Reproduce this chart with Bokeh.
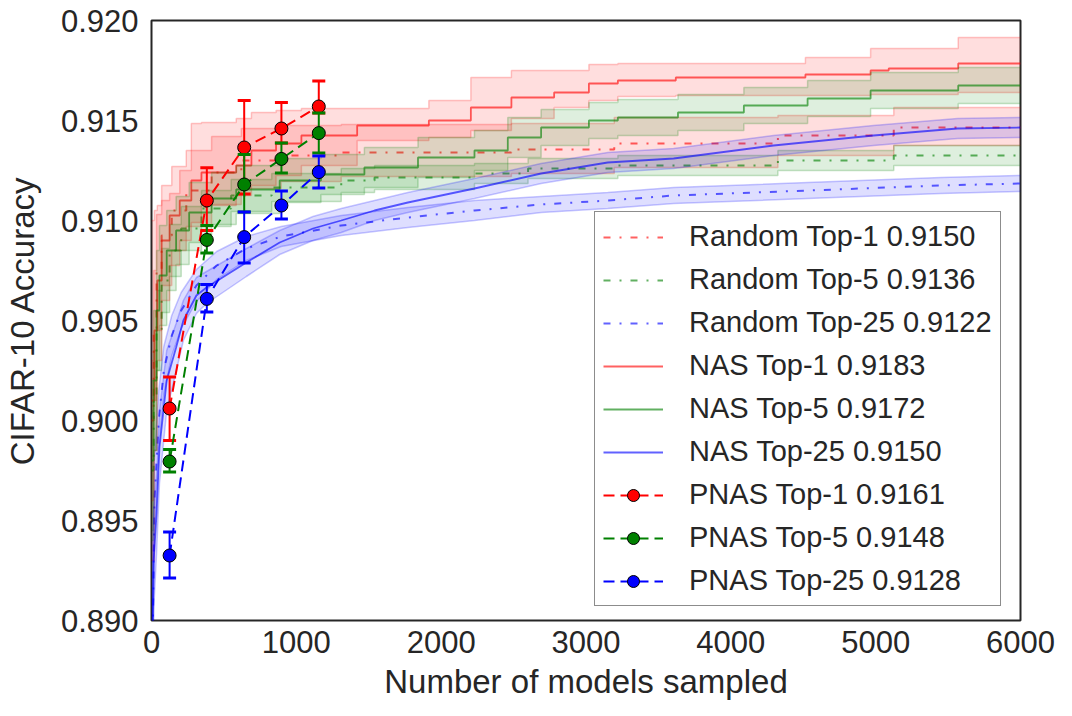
from bokeh.plotting import figure
from bokeh.models import FixedTicker, PrintfTickFormatter, Legend, LegendItem
from bokeh.embed import file_html
from bokeh.resources import INLINE

X_MAX = 6000

# ---------------- data ----------------
# NAS Top-1 (step, mean and band)
nas1_x = [0, 20, 40, 70, 125, 195, 275, 345, 585, 690, 860, 1035, 1420, 1915, 2205, 2485, 2780, 3020, 3220, 3620, 4515, 4965, 5090, 5570]
nas1_mean = [0.9010, 0.9045, 0.9070, 0.9090, 0.91025, 0.9110, 0.9120, 0.9124, 0.91275, 0.9135, 0.91385, 0.91425, 0.91475, 0.9150, 0.91565, 0.91615, 0.9164, 0.91685, 0.9170, 0.91715, 0.9173, 0.9175, 0.9176, 0.91785]
nas1_hi = [0.9100, 0.9105, 0.91075, 0.9110, 0.91135, 0.9125, 0.91485, 0.9149, 0.9151, 0.9154, 0.9155, 0.9156, 0.9156, 0.9160, 0.91715, 0.9175, 0.9175, 0.9178, 0.91785, 0.91785, 0.91815, 0.9186, 0.9186, 0.91915]
nas1_lo = [0.8930, 0.8985, 0.9030, 0.9060, 0.90775, 0.9090, 0.9099, 0.91075, 0.91125, 0.91175, 0.91225, 0.91275, 0.9140, 0.91415, 0.9145, 0.9151, 0.91565, 0.9160, 0.9162, 0.91625, 0.91625, 0.9163, 0.9163, 0.9164]

# Random Top-1
rnd1_x = [0, 15, 35, 70, 140, 240, 415, 620, 895, 1310, 2485, 3195, 4325, 5125]
rnd1_mean = [0.9000, 0.9045, 0.9075, 0.90925, 0.9105, 0.9115, 0.9124, 0.9130, 0.91325, 0.9134, 0.91355, 0.91385, 0.91425, 0.91465]
rnd1_hi = [0.9030, 0.9075, 0.9103, 0.91175, 0.9127, 0.9135, 0.9142, 0.9146, 0.91475, 0.9148, 0.91485, 0.91515, 0.91525, 0.91565]
rnd1_lo = [0.8960, 0.9010, 0.9045, 0.90675, 0.9085, 0.9097, 0.9108, 0.9116, 0.91195, 0.9122, 0.91235, 0.91265, 0.91325, 0.91375]

# NAS Top-5
nas5_x = [0, 15, 35, 55, 105, 170, 260, 415, 585, 885, 1170, 1470, 1840, 2230, 2460, 2690, 3020, 3220, 3635, 4090, 4530, 4965, 5570]
nas5_mean = [0.8980, 0.9020, 0.9055, 0.90725, 0.9085, 0.9095, 0.9104, 0.9111, 0.91155, 0.9120, 0.9123, 0.91265, 0.91315, 0.9135, 0.91415, 0.91465, 0.9150, 0.91515, 0.9154, 0.91575, 0.9161, 0.9165, 0.91675]
nas5_hi = [0.9020, 0.9055, 0.9085, 0.90975, 0.9105, 0.9112, 0.9119, 0.9124, 0.91275, 0.9131, 0.9133, 0.91365, 0.91415, 0.9145, 0.91515, 0.91555, 0.9159, 0.91605, 0.9163, 0.91665, 0.9170, 0.9174, 0.91765]
nas5_lo = [0.8940, 0.8985, 0.9025, 0.90475, 0.9065, 0.9078, 0.9089, 0.9098, 0.91035, 0.9109, 0.9113, 0.91165, 0.91215, 0.9125, 0.91315, 0.91375, 0.9141, 0.91425, 0.9145, 0.91485, 0.9152, 0.9156, 0.91585]

# Random Top-5
rnd5_x = [0, 15, 35, 70, 125, 205, 345, 550, 830, 1310, 1540, 2230, 2600, 3220, 4325, 5125]
rnd5_mean = [0.8975, 0.9010, 0.9045, 0.9070, 0.9085, 0.9096, 0.9106, 0.91125, 0.91165, 0.9120, 0.91215, 0.91235, 0.9126, 0.91275, 0.9130, 0.91325]
rnd5_hi = [0.9005, 0.9035, 0.9065, 0.9086, 0.9098, 0.9107, 0.9115, 0.91205, 0.91235, 0.9126, 0.91275, 0.91285, 0.9131, 0.91325, 0.9135, 0.91375]
rnd5_lo = [0.8945, 0.8985, 0.9025, 0.9054, 0.9072, 0.9085, 0.9097, 0.91045, 0.91095, 0.9114, 0.91155, 0.91185, 0.9121, 0.91225, 0.9125, 0.91275]

# NAS Top-25 (smooth)
nas25_x = [0, 15, 35, 55, 105, 170, 220, 310, 380, 655, 885, 1115, 1310, 1540, 1770, 2230, 2690, 3150, 3605, 4295, 4985, 5565, 6000]
nas25_mean = [0.8860, 0.8930, 0.89535, 0.89865, 0.9020, 0.90365, 0.9050, 0.90625, 0.90665, 0.9079, 0.9089, 0.9096, 0.9100, 0.9105, 0.9109, 0.9116, 0.91235, 0.9129, 0.9131, 0.91375, 0.91425, 0.9146, 0.91465]
nas25_hi = [0.8890, 0.8955, 0.89735, 0.90045, 0.9035, 0.90485, 0.9060, 0.90715, 0.90745, 0.9086, 0.9095, 0.9102, 0.9106, 0.9110, 0.9114, 0.9121, 0.91285, 0.9134, 0.9136, 0.91425, 0.91475, 0.9151, 0.91515]
nas25_lo = [0.8830, 0.8905, 0.89335, 0.89685, 0.9005, 0.90245, 0.9040, 0.90535, 0.90585, 0.9072, 0.9083, 0.9090, 0.9094, 0.9100, 0.9104, 0.9111, 0.91185, 0.9124, 0.9126, 0.91325, 0.91375, 0.9141, 0.91415]

# Random Top-25 (smooth)
rnd25_x = [0, 20, 50, 85, 140, 205, 310, 450, 655, 895, 1310, 1770, 2230, 2690, 3150, 3605, 4530, 5450, 6000]
rnd25_mean = [0.8840, 0.8960, 0.9000, 0.9025, 0.90425, 0.9055, 0.90675, 0.90775, 0.9086, 0.9092, 0.90975, 0.91015, 0.9105, 0.9108, 0.9110, 0.91125, 0.9115, 0.91175, 0.91185]
rnd25_hi = [0.8870, 0.8980, 0.9015, 0.9037, 0.90525, 0.9064, 0.90755, 0.90845, 0.9092, 0.9097, 0.91025, 0.91065, 0.9110, 0.9112, 0.9114, 0.91165, 0.9119, 0.91215, 0.91225]
rnd25_lo = [0.8810, 0.8940, 0.8985, 0.9013, 0.90325, 0.9046, 0.90595, 0.90705, 0.9080, 0.9087, 0.90925, 0.90965, 0.9100, 0.9104, 0.9106, 0.91085, 0.9111, 0.91135, 0.91145]

# PNAS (points with error bars)
pnas_x = [125, 382, 640, 897, 1155]
pnas1_mean = [0.9006, 0.9110, 0.91365, 0.9146, 0.9157]
pnas1_hi = [0.90217, 0.91264, 0.9160, 0.9159, 0.91697]
pnas1_lo = [0.8990, 0.9095, 0.91133, 0.91387, 0.91537]
pnas5_mean = [0.89795, 0.90903, 0.9118, 0.91308, 0.91437]
pnas5_hi = [0.89855, 0.90975, 0.9133, 0.91387, 0.91537]
pnas5_lo = [0.89742, 0.90837, 0.91042, 0.91237, 0.91338]
pnas25_mean = [0.89325, 0.90608, 0.90917, 0.91075, 0.91242]
pnas25_hi = [0.89442, 0.9068, 0.91042, 0.91147, 0.91322]
pnas25_lo = [0.89212, 0.90542, 0.90787, 0.91008, 0.91163]

labels = ["Random Top-1 0.9150", "Random Top-5 0.9136", "Random Top-25 0.9122",
          "NAS Top-1 0.9183", "NAS Top-5 0.9172", "NAS Top-25 0.9150",
          "PNAS Top-1 0.9161", "PNAS Top-5 0.9148", "PNAS Top-25 0.9128"]

x_ticks = [0, 1000, 2000, 3000, 4000, 5000, 6000]
y_ticks = [0.890, 0.895, 0.900, 0.905, 0.910, 0.915, 0.920]

RED, GREEN, BLUE = "#ff0000", "#008000", "#0000ff"
FONT = "Liberation Sans"
TXT = "#262626"

# ---------------- figure ----------------
p = figure(width=1056, height=706, output_backend="svg", toolbar_location=None,
           x_range=(0, X_MAX), y_range=(0.890, 0.920),
           min_border_left=150, min_border_right=36, min_border_top=20, min_border_bottom=86)
p.background_fill_color = "white"
p.border_fill_color = "white"
p.grid.visible = False
p.outline_line_color = TXT
p.outline_line_width = 2

for ax in (p.xaxis, p.yaxis):
    ax.axis_line_color = None
    ax.major_tick_line_color = None
    ax.minor_tick_line_color = None
    ax.major_tick_out = 0
    ax.major_tick_in = 0
    ax.minor_tick_out = 0
    ax.minor_tick_in = 0
    ax.major_label_text_font = FONT
    ax.major_label_text_font_size = "31px"
    ax.major_label_text_color = TXT
    ax.axis_label_text_font = FONT
    ax.axis_label_text_font_size = "33px"
    ax.axis_label_text_font_style = "normal"
    ax.axis_label_text_color = TXT
p.xaxis.ticker = FixedTicker(ticks=x_ticks)
p.yaxis.ticker = FixedTicker(ticks=y_ticks)
p.yaxis.formatter = PrintfTickFormatter(format="%.3f")
p.xaxis.major_label_standoff = 10
p.yaxis.major_label_standoff = 13
p.xaxis.axis_label_standoff = 7
p.yaxis.axis_label_standoff = 17
p.xaxis.axis_label = "Number of models sampled"
p.yaxis.axis_label = "CIFAR-10 Accuracy"


def ext(xs, ys):
    return list(xs) + [X_MAX], list(ys) + [ys[-1]]


def step_series(xs, mean, lo, hi, color, dash, width):
    xe, me = ext(xs, mean)
    _, le = ext(xs, lo)
    _, he = ext(xs, hi)
    p.varea_step(x=xe, y1=le, y2=he, step_mode="after", fill_color=color, fill_alpha=0.13)
    p.step(xe, le, mode="after", line_color=color, line_alpha=0.22, line_width=1.5)
    p.step(xe, he, mode="after", line_color=color, line_alpha=0.22, line_width=1.5)
    return p.step(xe, me, mode="after", line_color=color, line_alpha=0.62, line_width=width, line_dash=dash)


def smooth_series(xs, mean, lo, hi, color, dash, width):
    p.varea(x=xs, y1=lo, y2=hi, fill_color=color, fill_alpha=0.13)
    p.line(xs, lo, line_color=color, line_alpha=0.22, line_width=1.5)
    p.line(xs, hi, line_color=color, line_alpha=0.22, line_width=1.5)
    return p.line(xs, mean, line_color=color, line_alpha=0.62, line_width=width, line_dash=dash)


DASHDOT = "7 9 2 9"
r_rnd1 = step_series(rnd1_x, rnd1_mean, rnd1_lo, rnd1_hi, RED, DASHDOT, 2)
r_rnd5 = step_series(rnd5_x, rnd5_mean, rnd5_lo, rnd5_hi, GREEN, DASHDOT, 2)
r_rnd25 = smooth_series(rnd25_x, rnd25_mean, rnd25_lo, rnd25_hi, BLUE, DASHDOT, 2)
r_nas1 = step_series(nas1_x, nas1_mean, nas1_lo, nas1_hi, RED, "solid", 1.8)
r_nas5 = step_series(nas5_x, nas5_mean, nas5_lo, nas5_hi, GREEN, "solid", 1.8)
r_nas25 = smooth_series(nas25_x, nas25_mean, nas25_lo, nas25_hi, BLUE, "solid", 1.8)

pnas_items = []
for mean, lo, hi, color in ((pnas1_mean, pnas1_lo, pnas1_hi, RED),
                            (pnas5_mean, pnas5_lo, pnas5_hi, GREEN),
                            (pnas25_mean, pnas25_lo, pnas25_hi, BLUE)):
    ln = p.line(pnas_x, mean, line_color=color, line_width=2, line_dash="11 6")
    p.segment(x0=pnas_x, y0=lo, x1=pnas_x, y1=hi, line_color=color, line_width=2)
    p.scatter(pnas_x, lo, marker="dash", size=13, line_color=color, line_width=3)
    p.scatter(pnas_x, hi, marker="dash", size=13, line_color=color, line_width=3)
    sc = p.scatter(pnas_x, mean, marker="circle", size=13, fill_color=color,
                   line_color="black", line_width=1)
    pnas_items.append([ln, sc])

renderers = [[r_rnd1], [r_rnd5], [r_rnd25], [r_nas1], [r_nas5], [r_nas25]] + pnas_items
legend = Legend(items=[LegendItem(label=lab, renderers=rs) for lab, rs in zip(labels, renderers)],
                location=(443, 14))
legend.label_text_font = FONT
legend.label_text_font_size = "29px"
legend.label_text_color = TXT
legend.glyph_width = 60
legend.glyph_height = 30
legend.label_height = 30
legend.label_standoff = 26
legend.spacing = 10
legend.padding = 8
legend.margin = 0
legend.border_line_color = "#1a1a1a"
legend.border_line_width = 1.5
legend.background_fill_alpha = 1.0
p.add_layout(legend)

open("out.html", "w").write(file_html(p, INLINE))
